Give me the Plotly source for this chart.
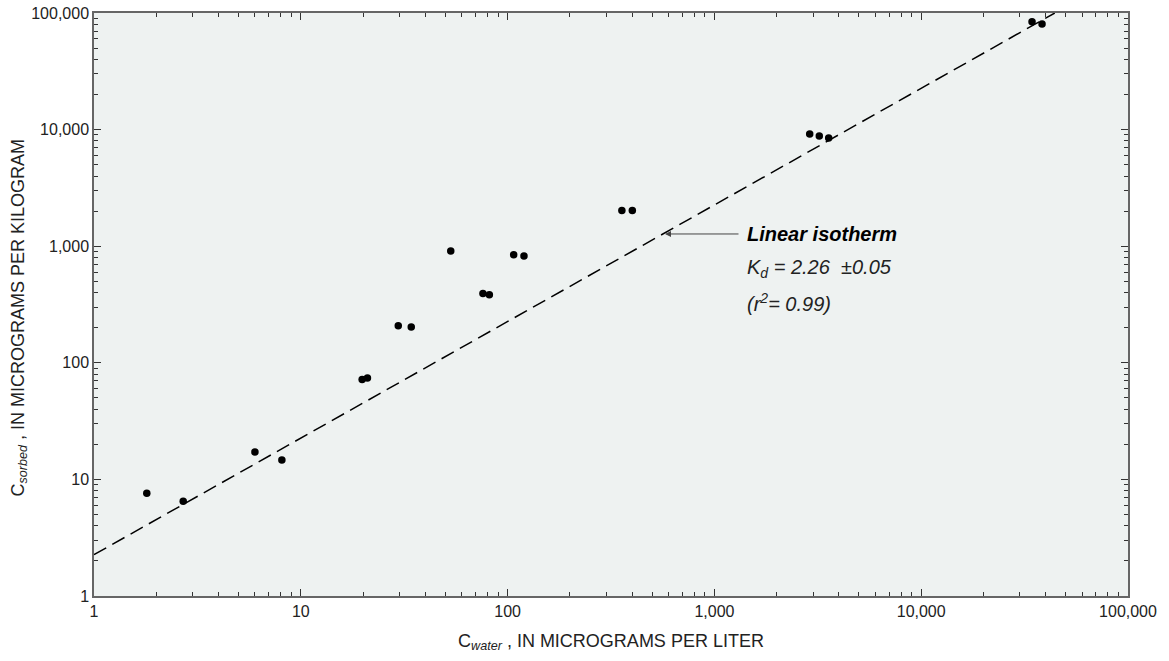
import math
import plotly.graph_objects as go

# Measured concentrations: dissolved (ug/L) vs. sorbed (ug/kg)
c_water = [1.8, 2.7, 6.0, 8.1, 19.8, 21.0, 29.6, 34.2, 53.1, 76.0, 81.6,
           107, 120, 357, 401, 2890, 3215, 3570, 34350, 38400]
c_sorbed = [7.6, 6.5, 17.2, 14.7, 72, 74, 208, 203, 910, 392, 384,
            846, 824, 2020, 2020, 9170, 8810, 8470, 84200, 80500]

# Linear isotherm fit
kd = 2.26
kd_err = 0.05
r2 = 0.99
line_x = [1, 100000 / kd]

tick_vals = [1, 10, 100, 1000, 10000, 100000]
tick_text = ["1", "10", "100", "1,000", "10,000", "100,000"]
minor_vals = [m * 10 ** d for d in range(5) for m in range(2, 10)]

font_family = "Liberation Sans, Arial, sans-serif"

fig = go.Figure()

fig.add_trace(go.Scatter(
    x=line_x, y=[kd * v for v in line_x], mode="lines",
    line=dict(color="black", width=1.5, dash="14px,7px"),
    hoverinfo="skip", showlegend=False))

fig.add_trace(go.Scatter(
    x=c_water, y=c_sorbed, mode="markers",
    marker=dict(color="black", size=7.5),
    showlegend=False))

axis_common = dict(
    type="log", showgrid=False, zeroline=False, automargin=False,
    showline=True, linecolor="#666666", linewidth=1.5, mirror="allticks",
    ticks="inside", ticklen=7, tickwidth=1, tickcolor="#333333",
    tickvals=tick_vals, ticktext=tick_text,
    tickfont=dict(family=font_family, size=16, color="#222222"),
    minor=dict(tickvals=minor_vals, ticks="inside", ticklen=4,
               tickcolor="#333333", tickwidth=1, showgrid=False),
)

fig.update_layout(
    width=1169, height=661,
    margin=dict(l=94, r=41, t=13, b=65),
    paper_bgcolor="white", plot_bgcolor="#eef2f1",
    font=dict(family=font_family, color="#222222"),
    xaxis=dict(range=[0, 5],
               title=dict(text="C<sub><i>water</i></sub> , IN MICROGRAMS PER LITER",
                          font=dict(size=18)),
               **axis_common),
    yaxis=dict(range=[0, 5], **axis_common),
)

# Vertical axis title
fig.add_annotation(
    x=-0.072, y=0.477, xref="paper", yref="paper",
    xanchor="center", yanchor="middle", textangle=-90, showarrow=False,
    text="C<sub><i>sorbed</i></sub> , IN MICROGRAMS PER KILOGRAM",
    font=dict(size=18, color="#222222"))

# Label block to the right of the fitted line
label_x = math.log10(1406)
arrow_y = math.log10(1273)

# Arrow pointing from the label to the fitted line
fig.add_annotation(
    x=math.log10(577), y=arrow_y, ax=math.log10(1330), ay=arrow_y,
    xref="x", yref="y", axref="x", ayref="y",
    text="", showarrow=True, arrowhead=2, arrowsize=1.2, arrowwidth=1,
    arrowcolor="#444444")

fig.add_annotation(
    x=label_x, y=arrow_y, xref="x", yref="y",
    xanchor="left", yanchor="middle", showarrow=False,
    text="<b><i>Linear isotherm</i></b>",
    font=dict(size=20, color="black"))

fig.add_annotation(
    x=label_x, y=math.log10(650), xref="x", yref="y",
    xanchor="left", yanchor="middle", showarrow=False,
    text=f"<i>K<sub>d</sub> = {kd:.2f}  \u00b1{kd_err:.2f}</i>",
    font=dict(size=20, color="#222222"))

fig.add_annotation(
    x=label_x, y=math.log10(326), xref="x", yref="y",
    xanchor="left", yanchor="middle", showarrow=False,
    text=f"<i>(r<sup>2</sup>= {r2:.2f})</i>",
    font=dict(size=20, color="#222222"))

fig.write_html("out.html")
